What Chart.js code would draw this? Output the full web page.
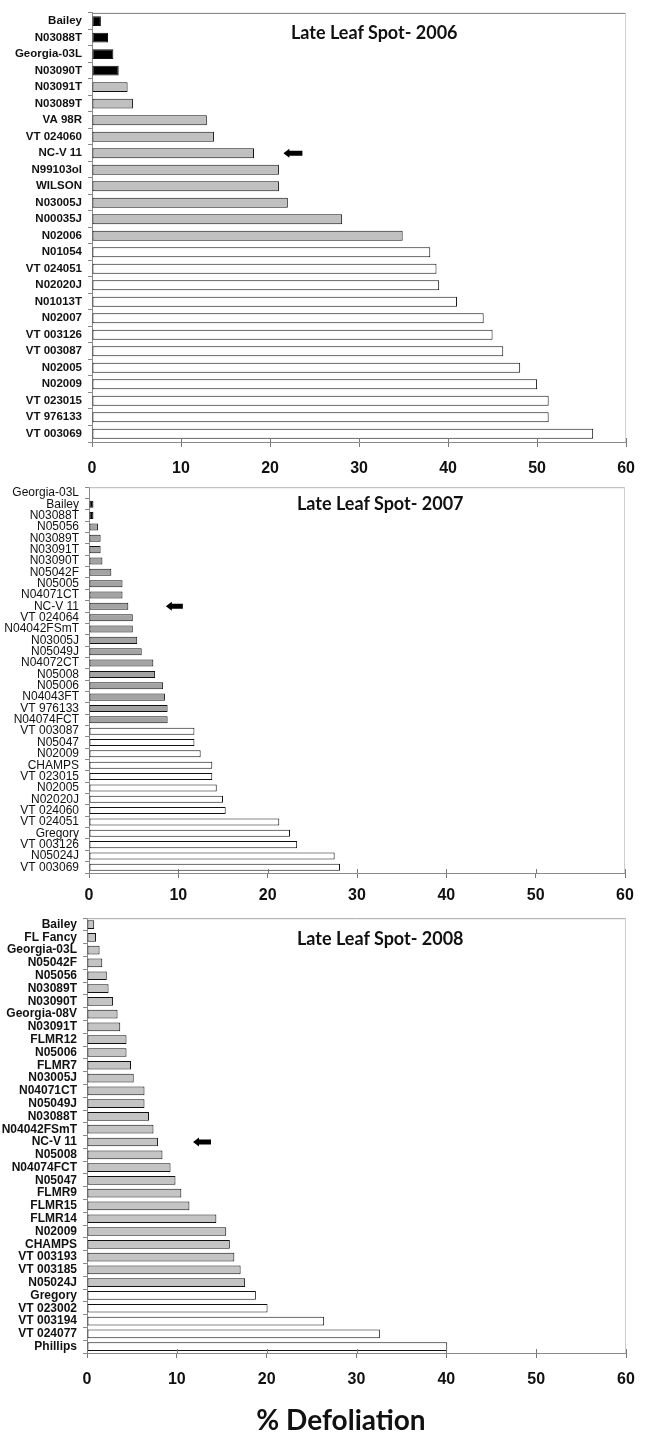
<!DOCTYPE html>
<html lang="en">
<head>
<meta charset="UTF-8">
<title>Late Leaf Spot - % Defoliation</title>
<script src="https://cdn.jsdelivr.net/npm/chart.js"></script>
<style>
    body { margin: 0; background: #fff; width: 647px; height: 1435px; position: relative; overflow: hidden; }
    .box { position: absolute; left: 0; width: 647px; }
    .ttl { position: absolute; font-family: Lato, "Open Sans", sans-serif; font-weight: bold; font-size: 18px; color: #111; white-space: nowrap; line-height: 1; }
    #xlabel { position: absolute; left: 0; width: 682px; top: 1405px; text-align: center; font-family: Lato, "Open Sans", sans-serif; font-weight: bold; font-size: 28px; color: #111; line-height: 1; }
</style>
</head>
<body>
<div class="box" id="b1" style="top:0;height:485px"><canvas id="c1"></canvas></div>
<div class="box" id="b2" style="top:474px;height:431px"><canvas id="c2"></canvas></div>
<div class="box" id="b3" style="top:905px;height:490px"><canvas id="c3"></canvas></div>
<div class="ttl" style="left:291px;top:23px">Late Leaf Spot- 2006</div>
<div class="ttl" style="left:297px;top:494px">Late Leaf Spot- 2007</div>
<div class="ttl" style="left:297px;top:929px">Late Leaf Spot- 2008</div>
<div id="xlabel">% Defoliation</div>

<script>
    // 2006
    const lines2006 = ['Bailey', 'N03088T', 'Georgia-03L', 'N03090T', 'N03091T', 'N03089T', 'VA 98R', 'VT 024060',
        'NC-V 11', 'N99103ol', 'WILSON', 'N03005J', 'N00035J', 'N02006', 'N01054', 'VT 024051', 'N02020J',
        'N01013T', 'N02007', 'VT 003126', 'VT 003087', 'N02005', 'N02009', 'VT 023015', 'VT 976133', 'VT 003069'];
    const defol2006 = [1.0, 1.8, 2.4, 3.0, 4.0, 4.6, 12.9, 13.7, 18.2, 21.0, 21.0, 22.0, 28.1, 34.9, 38.0, 38.7,
        39.0, 41.0, 44.0, 45.0, 46.2, 48.1, 50.0, 51.3, 51.3, 56.3];
    const group2006 = [1, 1, 1, 1, 2, 2, 2, 2, 2, 2, 2, 2, 2, 2, 3, 3, 3, 3, 3, 3, 3, 3, 3, 3, 3, 3];

    // 2007
    const lines2007 = ['Georgia-03L', 'Bailey', 'N03088T', 'N05056', 'N03089T', 'N03091T', 'N03090T', 'N05042F',
        'N05005', 'N04071CT', 'NC-V 11', 'VT 024064', 'N04042FSmT', 'N03005J', 'N05049J', 'N04072CT', 'N05008',
        'N05006', 'N04043FT', 'VT 976133', 'N04074FCT', 'VT 003087', 'N05047', 'N02009', 'CHAMPS', 'VT 023015',
        'N02005', 'N02020J', 'VT 024060', 'VT 024051', 'Gregory', 'VT 003126', 'N05024J', 'VT 003069'];
    const defol2007 = [0, 0.5, 0.5, 1.0, 1.3, 1.3, 1.5, 2.5, 3.75, 3.75, 4.4, 4.9, 4.9, 5.4, 5.9, 7.2, 7.4, 8.3,
        8.5, 8.8, 8.8, 11.8, 11.8, 12.5, 13.8, 13.8, 14.3, 15.0, 15.3, 21.3, 22.5, 23.3, 27.5, 28.1];
    const group2007 = [1, 1, 1, 2, 2, 2, 2, 2, 2, 2, 2, 2, 2, 2, 2, 2, 2, 2, 2, 2, 2,
        3, 3, 3, 3, 3, 3, 3, 3, 3, 3, 3, 3, 3];

    // 2008
    const lines2008 = ['Bailey', 'FL Fancy', 'Georgia-03L', 'N05042F', 'N05056', 'N03089T', 'N03090T', 'Georgia-08V',
        'N03091T', 'FLMR12', 'N05006', 'FLMR7', 'N03005J', 'N04071CT', 'N05049J', 'N03088T', 'N04042FSmT',
        'NC-V 11', 'N05008', 'N04074FCT', 'N05047', 'FLMR9', 'FLMR15', 'FLMR14', 'N02009', 'CHAMPS',
        'VT 003193', 'VT 003185', 'N05024J', 'Gregory', 'VT 023002', 'VT 003194', 'VT 024077', 'Phillips'];
    const defol2008 = [0.8, 1.0, 1.4, 1.7, 2.2, 2.4, 2.9, 3.4, 3.7, 4.4, 4.4, 4.9, 5.2, 6.4, 6.4, 6.9, 7.4, 7.9,
        8.4, 9.3, 9.85, 10.5, 11.4, 14.4, 15.5, 15.9, 16.4, 17.1, 17.6, 18.8, 20.1, 26.4, 32.6, 40.1];
    const group2008 = [2, 2, 2, 2, 2, 2, 2, 2, 2, 2, 2, 2, 2, 2, 2, 2, 2, 2, 2, 2, 2, 2, 2, 2, 2, 2, 2, 2, 2,
        3, 3, 3, 3, 3];

    const xTicks = [0, 10, 20, 30, 40, 50, 60];
    const checkLine = 'NC-V 11';
    const arrowTip = [21.5, 8.6, 11.8];   // % defoliation where the arrow head sits

    // frame on top/right + the black arrow next to the check line
    const extras = {
        id: 'extras',
        afterDatasetsDraw(chart, args, opts) {
            const { ctx, chartArea: a, scales } = chart;
            ctx.save();
            ctx.lineWidth = 1;
            ctx.strokeStyle = opts.topColor;
            ctx.beginPath(); ctx.moveTo(a.left, a.top + 0.5); ctx.lineTo(a.right, a.top + 0.5); ctx.stroke();
            ctx.strokeStyle = '#cfcfcf';
            ctx.beginPath(); ctx.moveTo(a.right - 0.5, a.top); ctx.lineTo(a.right - 0.5, a.bottom); ctx.stroke();

            // x ticks in the original cross the axis line
            ctx.strokeStyle = '#777';
            scales.x.ticks.forEach(t => {
                const px = Math.round(scales.x.getPixelForValue(t.value)) + 0.5;
                ctx.beginPath(); ctx.moveTo(px, a.bottom - 4); ctx.lineTo(px, a.bottom); ctx.stroke();
            });

            const labels = chart.data.labels;
            const x = scales.x.getPixelForValue(opts.arrowAt);
            const y = scales.y.getPixelForValue(labels.indexOf(checkLine));
            const len = opts.arrowLen, head = 6, hh = 4.5, sh = 2.5;
            ctx.fillStyle = '#000';
            ctx.beginPath();
            ctx.moveTo(x, y);
            ctx.lineTo(x + head, y - hh);
            ctx.lineTo(x + head, y - sh);
            ctx.lineTo(x + len, y - sh);
            ctx.lineTo(x + len, y + sh);
            ctx.lineTo(x + head, y + sh);
            ctx.lineTo(x + head, y + hh);
            ctx.closePath();
            ctx.fill();
            ctx.restore();
        }
    };

    function makeChart(id, labels, values, groups, cfg) {
        const fills = { 1: '#000000', 2: cfg.gray, 3: '#ffffff' };
        new Chart(document.getElementById(id), {
            type: 'bar',
            data: {
                labels: labels,
                datasets: [{
                    data: values,
                    backgroundColor: groups.map(g => fills[g]),
                    borderColor: '#111',
                    borderWidth: 1,
                    borderSkipped: false,
                    barPercentage: cfg.bar,
                    categoryPercentage: 1
                }]
            },
            options: {
                indexAxis: 'y',
                responsive: true,
                maintainAspectRatio: false,
                animation: false,
                layout: { padding: { top: cfg.top, right: cfg.right, left: 0, bottom: 0 } },
                plugins: {
                    legend: { display: false },
                    tooltip: { enabled: false },
                    extras: { arrowAt: cfg.arrowAt, arrowLen: cfg.arrowLen, topColor: cfg.topColor }
                },
                scales: {
                    x: {
                        min: 0, max: 60,
                        afterBuildTicks: s => { s.ticks = xTicks.map(v => ({ value: v })); },
                        grid: { drawOnChartArea: false, drawTicks: true, tickLength: 5, color: '#777' },
                        border: { color: '#8a8a8a', width: 1 },
                        ticks: {
                            color: '#111', padding: cfg.xPad, maxRotation: 0,
                            font: { family: '"Liberation Sans", Arial, sans-serif', size: 16, weight: 'bold' }
                        },
                        afterFit: s => { s.height = cfg.xHeight; }
                    },
                    y: {
                        grid: { drawOnChartArea: false, drawTicks: true, tickLength: 4, color: '#888', offset: true },
                        border: { color: '#8a8a8a', width: 1 },
                        ticks: {
                            color: '#111', padding: 6, autoSkip: false,
                            font: { family: '"Liberation Sans", Arial, sans-serif', size: cfg.ySize, weight: cfg.yWeight }
                        },
                        afterFit: s => { s.width = cfg.left; }
                    }
                }
            },
            plugins: [extras]
        });
    }

    makeChart('c1', lines2006, defol2006, group2006, {
        gray: '#c0c0c0', bar: 0.6, top: 7, right: 20, left: 92, xHeight: 43, xPad: 12,
        ySize: 11.5, yWeight: 'bold', arrowAt: arrowTip[0], arrowLen: 19, topColor: '#7a7a7a'
    });
    makeChart('c2', lines2007, defol2007, group2007, {
        gray: '#a3a3a3', bar: 0.62, top: 7, right: 22, left: 89, xHeight: 32, xPad: 8,
        ySize: 12, yWeight: 'normal', arrowAt: arrowTip[1], arrowLen: 17, topColor: '#b5b5b5'
    });
    makeChart('c3', lines2008, defol2008, group2008, {
        gray: '#c4c4c4', bar: 0.68, top: 12, right: 21, left: 87, xHeight: 42, xPad: 12,
        ySize: 12, yWeight: 'bold', arrowAt: arrowTip[2], arrowLen: 18, topColor: '#a5a5a5'
    });
</script>
</body>
</html>
